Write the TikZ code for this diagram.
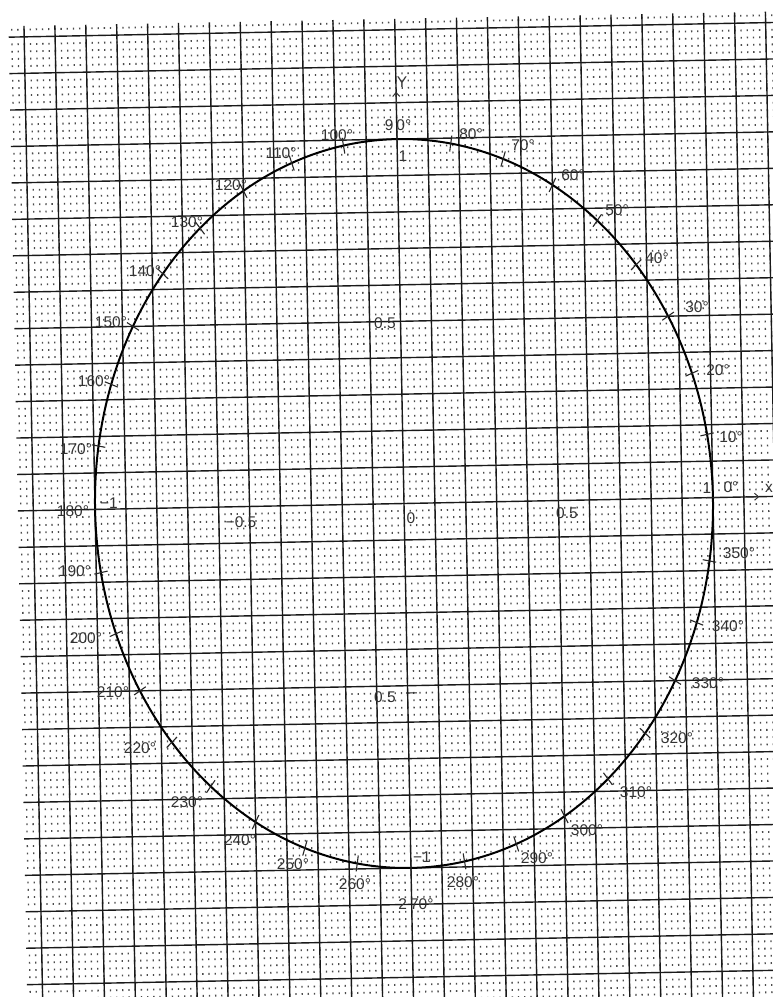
\documentclass[tikz,border=0pt]{standalone}
\usepackage{fontspec}
\setmainfont{Liberation Sans}
\usetikzlibrary{arrows.meta}

\begin{document}
\begin{tikzpicture}[x=1pt, y=-1pt,
    major/.style={draw=black!90, line width=1.4pt},
    minordots/.style={draw=black!70, line width=1.8pt, dash pattern=on 1.3pt off 4.88pt, dash phase=0.65pt},
    curve/.style={draw=black, line width=2pt},
    tickmark/.style={draw=black!85, line width=1.1pt},
    axtip/.style={-{Straight Barb[length=4pt, width=7pt]}, line width=1pt, black!80},
    lbl/.style={text=black!80, font=\fontsize{15.5}{16}\selectfont, inner sep=0pt}
]
\useasboundingbox (0,0) rectangle (772,997);
\begin{scope}[shift={(404,503.5)}, x=30.9pt, y=36.45pt, rotate=1.1]
  \clip (-12.5,-13.8) rectangle (12.8,13.3);
  \foreach \k in {-14,...,13}
    \foreach \j in {0.2,0.4,0.6,0.8}
      \draw[minordots] (-13,\k+\j) -- (13,\k+\j);
  \foreach \i in {-13,...,13}
    \draw[major] (\i,-14) -- (\i,14);
  \foreach \i in {-14,...,14}
    \draw[major] (-13,\i) -- (13,\i);
  \draw[curve] (0,0) ellipse [x radius=10, y radius=10];
  \foreach \a in {0,10,...,350}
    \draw[tickmark] ({9.78*cos(\a)},{9.78*sin(\a)}) -- ({10.22*cos(\a)},{10.22*sin(\a)});
  \coordinate (ybase) at (0,10.95);
  \coordinate (ytip) at (0,11.3);
  \coordinate (xbase) at (11.1,0);
  \coordinate (xtip) at (11.5,0);
  \draw[axtip] (ybase) -- (ytip);
  \draw[axtip] (xbase) -- (xtip);
  \coordinate (hx) at (5,0);
  \coordinate (hxt) at (5,0.22);
  \coordinate (hy) at (-0.05,-5.2);
  \coordinate (hyt) at (0.3,-5.2);
  \draw[tickmark] (hx) -- (hxt);
  \draw[tickmark] (hy) -- (hyt);
\end{scope}

\node[lbl] (ylab)   at (402,82)  {Y};
\node[lbl] (xlab)   at (769,488) {x};
\node[lbl] (onex)   at (707,488) {1};
\node[lbl] (a0)     at (731,487) {0°};
\node[lbl] (a10)    at (731,437) {10°};
\node[lbl] (a20)    at (718,370) {20°};
\node[lbl] (a30)    at (697,307) {30°};
\node[lbl] (a40)    at (657,258) {40°};
\node[lbl] (a50)    at (617,210) {50°};
\node[lbl] (a60)    at (573,175) {60°};
\node[lbl] (a70)    at (523,145) {70°};
\node[lbl] (a80)    at (471,134) {80°};
\node[lbl] (a90)    at (398,125) {9\hspace{3pt}0°};
\node[lbl] (oney)   at (403,156) {1};
\node[lbl] (a100)   at (337,135) {100°};
\node[lbl] (a110)   at (281,153) {110°};
\node[lbl] (a120)   at (231,185) {120°};
\node[lbl] (a130)   at (187,222) {130°};
\node[lbl] (a140)   at (145,271) {140°};
\node[lbl] (a150)   at (111,322) {150°};
\node[lbl] (a160)   at (94,381)  {160°};
\node[lbl] (a170)   at (76,449)  {170°};
\node[lbl] (a180)   at (73,511)  {180°};
\node[lbl] (monex)  at (109,503) {−1};
\node[lbl] (mhalfx) at (241,522) {−0.5};
\node[lbl] (a190)   at (75,571)  {190°};
\node[lbl] (a200)   at (86,638)  {200°};
\node[lbl] (a210)   at (113,692) {210°};
\node[lbl] (a220)   at (140,748) {220°};
\node[lbl] (a230)   at (187,802) {230°};
\node[lbl] (a240)   at (240,840) {240°};
\node[lbl] (a250)   at (293,864) {250°};
\node[lbl] (a260)   at (355,884) {260°};
\node[lbl] (a270)   at (416,904) {2\hspace{3pt}70°};
\node[lbl] (money)  at (422,857) {−1};
\node[lbl] (a280)   at (463,882) {280°};
\node[lbl] (a290)   at (537,858) {290°};
\node[lbl] (a300)   at (587,830) {300°};
\node[lbl] (a310)   at (636,792) {310°};
\node[lbl] (a320)   at (677,738) {320°};
\node[lbl] (a330)   at (708,683) {330°};
\node[lbl] (a340)   at (728,626) {340°};
\node[lbl] (a350)   at (739,553) {350°};
\node[lbl] (halfx)  at (567,513) {0.5};
\node[lbl] (zero)   at (411,518) {0};
\node[lbl] (halfy)  at (385,323) {0.5};
\node[lbl] (mhalfy) at (385,697) {0.5};
\end{tikzpicture}
\end{document}
